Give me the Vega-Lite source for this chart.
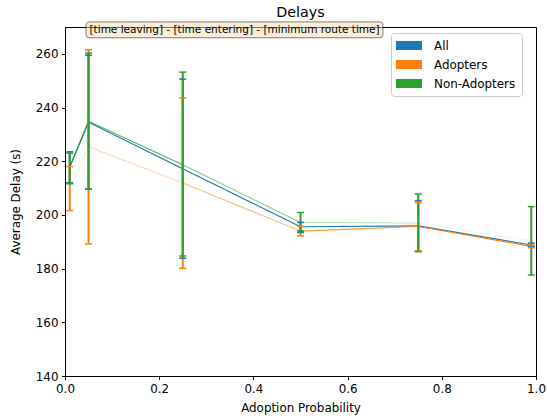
{
  "$schema": "https://vega.github.io/schema/vega-lite/v6.json",
  "width": 471,
  "height": 349,
  "autosize": {"type": "none"},
  "padding": {"left": 65, "top": 27, "right": 11, "bottom": 43},
  "title": {"text": "Delays", "fontSize": 14.3, "font": "DejaVu Sans", "fontWeight": "normal", "color": "#000000", "offset": 1},
  "config": {
    "font": "DejaVu Sans",
    "view": {"stroke": "#000000", "strokeWidth": 1},
    "axis": {
      "grid": false,
      "domainColor": "#000000",
      "tickColor": "#000000",
      "tickSize": 3.5,
      "labelColor": "#000000",
      "labelFontSize": 11.9,
      "titleColor": "#000000",
      "titleFontSize": 11.9,
      "titleFontWeight": "normal",
      "labelPadding": 3.5,
      "labelFlush": false
    }
  },
  "data": {
    "values": [
      {"series": "All", "p": 0.01, "mean": 217.8, "lo": 212.0, "hi": 223.5, "share": 1},
      {"series": "All", "p": 0.05, "mean": 234.5, "lo": 209.6, "hi": 259.5, "share": 1},
      {"series": "All", "p": 0.25, "mean": 217.2, "lo": 183.9, "hi": 250.6, "share": 1},
      {"series": "All", "p": 0.5, "mean": 195.6, "lo": 194.0, "hi": 197.2, "share": 1},
      {"series": "All", "p": 0.75, "mean": 195.9, "lo": 186.5, "hi": 205.3, "share": 1},
      {"series": "All", "p": 0.99, "mean": 188.8, "lo": 188.2, "hi": 189.5, "share": 1},
      {"series": "Adopters", "p": 0.01, "mean": 209.8, "lo": 201.6, "hi": 218.0, "share": 0.01},
      {"series": "Adopters", "p": 0.05, "mean": 225.4, "lo": 189.2, "hi": 261.5, "share": 0.05},
      {"series": "Adopters", "p": 0.25, "mean": 211.9, "lo": 180.1, "hi": 243.6, "share": 0.25},
      {"series": "Adopters", "p": 0.5, "mean": 194.0, "lo": 192.2, "hi": 195.8, "share": 0.5},
      {"series": "Adopters", "p": 0.75, "mean": 195.7, "lo": 186.6, "hi": 204.6, "share": 0.75},
      {"series": "Adopters", "p": 0.99, "mean": 188.3, "lo": 187.8, "hi": 188.8, "share": 0.99},
      {"series": "Non-Adopters", "p": 0.01, "mean": 217.8, "lo": 211.6, "hi": 223.0, "share": 0.99},
      {"series": "Non-Adopters", "p": 0.05, "mean": 234.9, "lo": 209.6, "hi": 260.3, "share": 0.95},
      {"series": "Non-Adopters", "p": 0.25, "mean": 218.7, "lo": 184.7, "hi": 253.2, "share": 0.75},
      {"series": "Non-Adopters", "p": 0.5, "mean": 197.2, "lo": 193.4, "hi": 200.9, "share": 0.5},
      {"series": "Non-Adopters", "p": 0.75, "mean": 197.0, "lo": 186.3, "hi": 207.8, "share": 0.25},
      {"series": "Non-Adopters", "p": 0.99, "mean": 190.3, "lo": 177.6, "hi": 203.1, "share": 0.01}
    ]
  },
  "layer": [
    {
      "transform": [
        {"window": [
          {"op": "lead", "field": "p", "as": "p2"},
          {"op": "lead", "field": "mean", "as": "m2"},
          {"op": "lead", "field": "share", "as": "s2"}
        ], "groupby": ["series"], "sort": [{"field": "p", "order": "ascending"}]},
        {"filter": "datum.p2 != null"}
      ],
      "mark": {"type": "rule", "strokeWidth": 1.2},
      "encoding": {
        "x": {"field": "p", "type": "quantitative", "scale": {"domain": [0, 1], "nice": false, "zero": false, "padding": 0},
          "axis": {"title": "Adoption Probability", "values": [0, 0.2, 0.4, 0.6, 0.8, 1.0], "format": ".1f", "titlePadding": 9}},
        "x2": {"field": "p2"},
        "y": {"field": "mean", "type": "quantitative", "scale": {"domain": [140, 270], "nice": false, "zero": false, "padding": 0},
          "axis": {"title": "Average Delay (s)", "values": [140, 160, 180, 200, 220, 240, 260], "titlePadding": 14}},
        "y2": {"field": "m2"},
        "color": {"field": "series", "type": "nominal",
          "scale": {"domain": ["All", "Adopters", "Non-Adopters"], "range": ["#1f77b4", "#ff7f0e", "#2ca02c"]},
          "legend": {"title": null, "orient": "none", "legendX": 326, "legendY": 6, "fillColor": "#ffffff", "strokeColor": "#cccccc", "cornerRadius": 3, "padding": 6,
            "symbolType": "M-2,-0.7H2V0.7H-2Z", "symbolSize": 169, "symbolOffset": 5.5, "labelFontSize": 11.9, "labelColor": "#000000", "labelOffset": 18.5, "rowPadding": 6,
            "encode": {"symbols": {"update": {"fill": {"scale": "color", "field": "value"}, "stroke": {"value": "transparent"}, "strokeWidth": {"value": 0}, "opacity": {"value": 1}}}}}},
        "opacity": {"field": "s2", "type": "quantitative", "scale": {"domain": [0, 1], "range": [0.08, 1]}, "legend": null}
      }
    },
    {
      "mark": {"type": "rule", "strokeWidth": 2},
      "encoding": {
        "x": {"field": "p", "type": "quantitative"},
        "y": {"field": "lo", "type": "quantitative"},
        "y2": {"field": "hi"},
        "color": {"field": "series", "type": "nominal"}
      }
    },
    {
      "mark": {"type": "tick", "orient": "horizontal", "size": 7, "thickness": 1.5, "opacity": 1},
      "encoding": {
        "x": {"field": "p", "type": "quantitative"},
        "y": {"field": "lo", "type": "quantitative"},
        "color": {"field": "series", "type": "nominal"}
      }
    },
    {
      "mark": {"type": "tick", "orient": "horizontal", "size": 7, "thickness": 1.5, "opacity": 1},
      "encoding": {
        "x": {"field": "p", "type": "quantitative"},
        "y": {"field": "hi", "type": "quantitative"},
        "color": {"field": "series", "type": "nominal"}
      }
    },
    {
      "data": {"values": [{"note": "[time leaving] - [time entering] - [minimum route time]"}]},
      "mark": {"type": "rect", "fill": "#f5deb3", "fillOpacity": 0.5, "stroke": "#000000", "strokeOpacity": 0.5, "strokeWidth": 1, "cornerRadius": 3},
      "encoding": {
        "x": {"datum": 0.0446, "type": "quantitative"},
        "x2": {"datum": 0.675},
        "y": {"datum": 271.9, "type": "quantitative"},
        "y2": {"datum": 266.0}
      }
    },
    {
      "data": {"values": [{"note": "[time leaving] - [time entering] - [minimum route time]"}]},
      "mark": {"type": "text", "fontSize": 10.5, "align": "center", "baseline": "middle", "color": "#000000"},
      "encoding": {
        "x": {"datum": 0.36, "type": "quantitative"},
        "y": {"datum": 268.95, "type": "quantitative"},
        "text": {"field": "note"}
      }
    }
  ]
}
